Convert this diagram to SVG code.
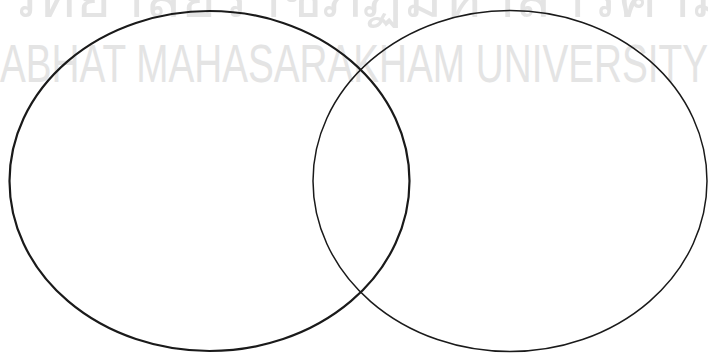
<svg xmlns="http://www.w3.org/2000/svg" width="708" height="356" viewBox="0 0 708 356">
  <style>
    .wm { fill: #e4e4e4; font-family: "Liberation Sans Narrow", "Liberation Sans", "Noto Sans", sans-serif; }
    .set { fill: none; stroke: #1a1a1a; }
  </style>
  <rect width="708" height="356" fill="#ffffff"/>
  <g id="watermark">
    <text class="wm" x="-110" y="17" font-size="56" textLength="840" lengthAdjust="spacingAndGlyphs">มหาวิทยาลัยราชภัฏมหาสารคาม</text>
    <text class="wm" x="0" y="82" font-size="54" textLength="708" lengthAdjust="spacingAndGlyphs">ABHAT MAHASARAKHAM UNIVERSITY</text>
  </g>
  <g id="set-right">
    <ellipse class="set" cx="510" cy="181" rx="197" ry="170.5" stroke-width="1.5"/>
  </g>
  <g id="set-left">
    <ellipse class="set" cx="209.5" cy="181" rx="200" ry="170" stroke-width="2.2"/>
  </g>
  <g id="connectors"/>
</svg>
